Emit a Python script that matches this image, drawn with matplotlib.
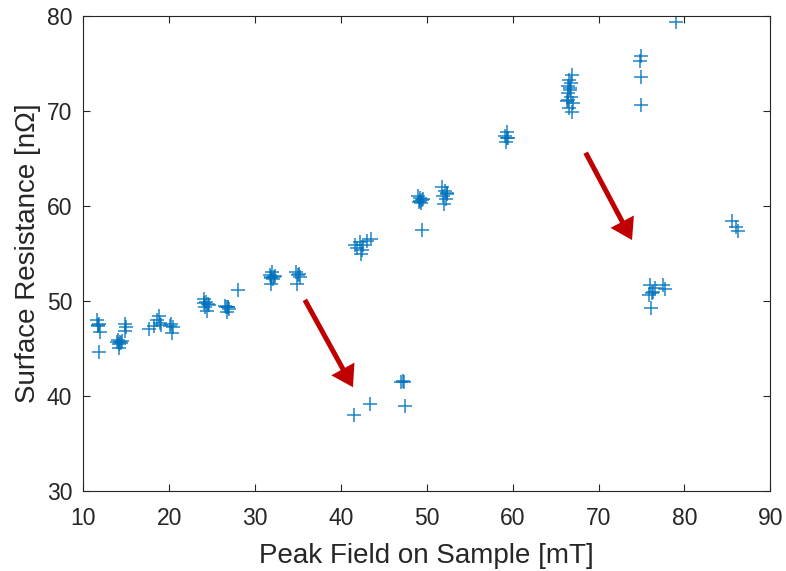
import matplotlib
matplotlib.use('Agg')
import matplotlib.pyplot as plt

plt.rcParams['font.family'] = ['Liberation Sans', 'DejaVu Sans']

# Peak field [mT] and surface resistance [nOhm]
field = [11.6, 11.8, 11.7, 11.9, 11.8, 11.7,
         14.0, 14.3, 14.5, 14.1, 14.2, 14.4, 13.9, 14.8, 15.0, 14.9,
         17.6, 18.2, 18.6, 18.8, 18.9, 19.1, 20.2, 20.4, 20.3, 20.1,
         24.0, 24.3, 24.5, 24.2, 24.4, 24.1, 24.6,
         26.5, 26.8, 27.0, 26.7, 26.6, 26.9, 28.0,
         31.7, 31.9, 32.1, 32.3, 31.9, 32.0, 31.8, 32.2,
         34.8, 35.0, 35.2, 34.9, 35.1,
         41.5, 43.4, 47.0, 47.2, 47.4, 47.5,
         41.6, 41.9, 42.2, 42.4, 42.6, 43.0, 43.5, 42.3,
         49.0, 49.2, 49.4, 49.1, 49.3, 49.5, 49.2, 49.4,
         51.8, 52.1, 52.3, 51.9, 52.2, 52.0, 52.4,
         59.3, 59.1, 59.4, 59.2, 59.3,
         66.9, 66.6, 66.8, 66.4, 66.7, 66.5, 66.8, 66.3, 67.0, 66.6, 66.9,
         66.5, 66.7,
         75.0, 74.8, 74.9, 74.9, 79.0,
         76.0, 76.2, 75.9, 76.1, 76.3, 77.5, 77.7, 76.6,
         85.5, 86.0, 86.2]
resistance = [48.0, 47.6, 47.3, 46.7, 44.6, 47.5,
              45.9, 45.7, 45.8, 45.5, 45.0, 45.6, 45.7, 47.6, 47.2, 46.8,
              47.0, 47.3, 48.0, 48.4, 47.7, 47.5, 47.6, 47.2, 46.6, 47.4,
              50.2, 49.9, 49.7, 49.4, 48.9, 49.8, 49.6,
              49.5, 49.3, 49.1, 48.8, 49.4, 49.3, 51.1,
              52.7, 52.5, 52.3, 52.6, 51.8, 53.0, 52.4, 52.5,
              53.0, 52.7, 52.5, 51.8, 52.8,
              38.0, 39.1, 41.5, 41.6, 41.5, 38.9,
              55.9, 55.6, 56.2, 55.4, 55.9, 56.3, 56.5, 54.9,
              61.0, 60.8, 60.6, 60.4, 60.3, 60.7, 60.5, 57.5,
              62.0, 61.6, 61.3, 61.0, 60.7, 60.2, 61.4,
              67.8, 67.4, 67.1, 66.7, 67.2,
              73.8, 73.3, 72.9, 72.6, 72.2, 71.9, 71.5, 71.0, 70.8, 70.3, 69.9,
              71.2, 72.4,
              75.8, 75.3, 73.6, 70.6, 79.4,
              51.7, 50.8, 50.6, 49.2, 50.9, 51.7, 51.2, 51.3,
              58.4, 57.8, 57.4]

# annotation arrows (tail -> tip), data coordinates
arrow_tails = [(35.8, 50.1), (68.5, 65.6)]
arrow_tips = [(41.4, 40.9), (73.9, 56.4)]

fig = plt.figure(figsize=(7.86, 5.71), dpi=100)
ax = fig.add_axes([0.106, 0.1406, 0.874, 0.8314])

ax.plot(field, resistance, '+', color='#0072BD', markersize=10,
        markeredgewidth=1.1, alpha=0.88)

for tail, tip in zip(arrow_tails, arrow_tips):
    ax.annotate('', xy=tip, xytext=tail,
                arrowprops=dict(arrowstyle='simple,head_length=0.75,head_width=0.95,tail_width=0.18',
                                mutation_scale=20, color='#C00000', lw=0,
                                shrinkA=0, shrinkB=0))

ax.set_xlim(10, 90)
ax.set_ylim(30, 80)
ax.set_xticks(range(10, 91, 10))
ax.set_yticks(range(30, 81, 10))

dark = '#262626'
ax.tick_params(direction='in', length=5, width=0.8, colors=dark,
               labelsize=16.5, top=True, right=True)
ax.tick_params(axis='x', pad=12)
ax.tick_params(axis='y', pad=8)
for s in ax.spines.values():
    s.set_color(dark)
    s.set_linewidth(0.8)

ax.set_xlabel('Peak Field on Sample [mT]', fontsize=20, color=dark, labelpad=9)
ax.set_ylabel('Surface Resistance [n\u03a9]', fontsize=20, color=dark, labelpad=4)

fig.savefig('out.png', dpi=100)
